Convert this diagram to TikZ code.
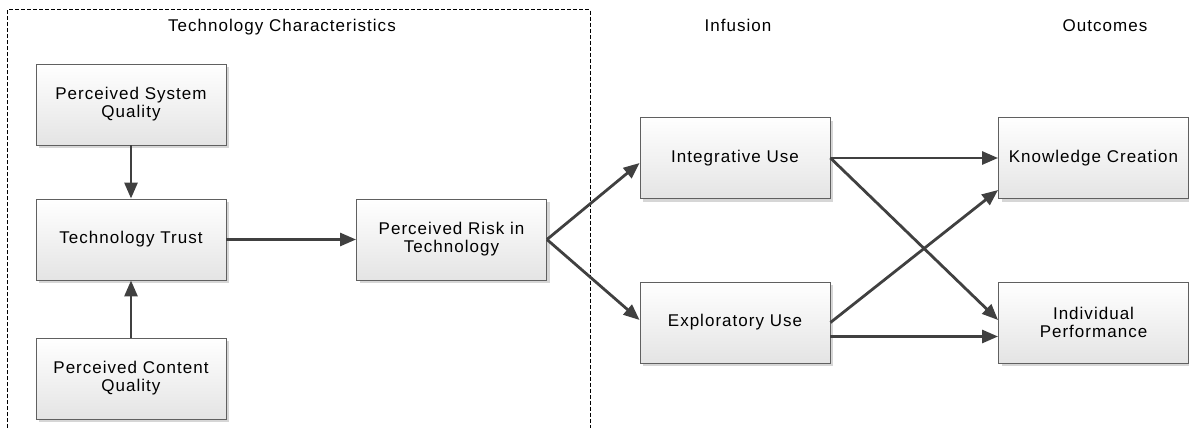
\documentclass[tikz,border=0pt]{standalone}
\usepackage{fontspec}
\setmainfont{Liberation Sans}[LetterSpace=6]
\usetikzlibrary{arrows.meta,calc}
\definecolor{edgec}{HTML}{404040}
\definecolor{boxline}{HTML}{606060}
\definecolor{boxbot}{HTML}{E4E4E4}
\definecolor{shad}{HTML}{D6D6D6}
\begin{document}
\begin{tikzpicture}[x=1pt,y=-1pt,
  box/.style={draw=boxline, line width=0.9pt, top color=white, bottom color=boxbot,
    minimum width=190pt, minimum height=81pt, inner sep=2pt, align=center,
    font=\fontsize{17}{18}\selectfont,
    preaction={draw=none, fill=shad, transform canvas={xshift=3pt,yshift=-3pt}}},
  conn/.style={draw=edgec, line width=2.8pt, -{Triangle[length=16pt,width=13pt]}},
  hdr/.style={font=\fontsize{17}{18}\selectfont, anchor=base, inner sep=0pt},
  groupline/.style={draw=black, line width=0.8pt, dash pattern=on 4pt off 2pt}]
\useasboundingbox (0,0) rectangle (1189,428);
% group frame
\coordinate (g1) at (7.6,428);
\coordinate (g2) at (7.6,9.5);
\coordinate (g3) at (590,9.5);
\coordinate (g4) at (590,428);
\draw[groupline] (g1) -- (g2) -- (g3) -- (g4);
% headers
\node[hdr] (h1) at (282,31.5) {Technology Characteristics};
\node[hdr] (h2) at (738,31.5) {Infusion};
\node[hdr] (h3) at (1105,31.5) {Outcomes};
% boxes
\node[box] (psq) at (131,104.5) {Perceived System\\Quality};
\node[box] (tt) at (131,239.5) {Technology Trust};
\node[box] (pcq) at (131,378.5) {Perceived Content\\Quality};
\node[box] (pr) at (451.5,239.5) {Perceived Risk in\\Technology};
\node[box] (iu) at (735,158) {Integrative Use};
\node[box] (eu) at (735,322.5) {Exploratory Use};
\node[box] (kc) at (1093.5,158) {Knowledge Creation};
\node[box] (ip) at (1093.5,322.5) {Individual\\Performance};
% connectors
\draw[conn] (psq.south) -- (tt.north);
\draw[conn] (pcq.north) -- (tt.south);
\draw[conn] (tt.east) -- (pr.west);
\draw[conn] (pr.east) -- ([yshift=-5pt]iu.west);
\draw[conn] (pr.east) -- ([yshift=2.5pt]eu.west);
\draw[conn] (iu.east) -- (kc.west);
\draw[conn] (iu.east) -- ([yshift=2.5pt]ip.west);
\draw[conn] (eu.east) -- ([yshift=-32pt]kc.west);
\draw[conn] ([yshift=-14pt]eu.east) -- ([yshift=-14pt]ip.west);
\end{tikzpicture}
\end{document}
